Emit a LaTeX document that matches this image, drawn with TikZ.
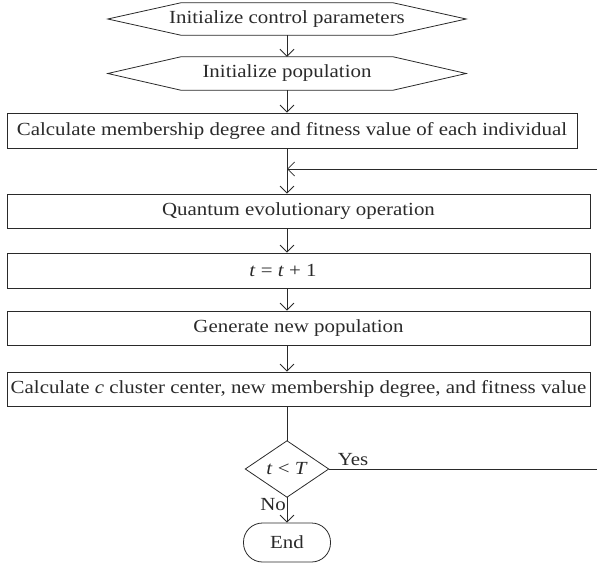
\documentclass[tikz,border=0pt]{standalone}
\usepackage{fontspec}
\setmainfont{Liberation Serif}[FakeStretch=1.13]
\usetikzlibrary{arrows.meta}
\definecolor{ink}{HTML}{2A2A2A}
\tikzset{
  every node/.style={font=\fontsize{18.5}{22}\selectfont, text=ink},
  ln/.style={draw=ink, line width=0.8pt},
  arr/.style={ln, -{Straight Barb[length=7pt,width=14pt,line width=0.8pt]}},
  hexbox/.style={minimum width=358pt, minimum height=32pt, inner sep=0pt},
  procbox/.style={ln, rectangle, minimum width=583pt, inner sep=0pt},
  decbox/.style={minimum width=83pt, minimum height=56pt, inner sep=0pt},
  termbox/.style={ln, rectangle, rounded corners=19pt, minimum width=87pt, minimum height=39pt, inner sep=0pt},
  lbl/.style={inner sep=0pt}
}
\begin{document}
\begin{tikzpicture}[x=1pt,y=-1pt]
\useasboundingbox (0,0) rectangle (597,564);
% hexagons
\node[hexbox] (h1) at (287,19) {Initialize control parameters};
\draw[ln] (h1.west) -- ([xshift=73pt]h1.north west) -- ([xshift=-73pt]h1.north east) -- (h1.east) -- ([xshift=-73pt]h1.south east) -- ([xshift=73pt]h1.south west) -- cycle;
\node[hexbox,minimum height=33pt] (h2) at (287,73.5) {Initialize population};
\draw[ln] (h2.west) -- ([xshift=73pt]h2.north west) -- ([xshift=-73pt]h2.north east) -- (h2.east) -- ([xshift=-73pt]h2.south east) -- ([xshift=73pt]h2.south west) -- cycle;
% process boxes
\node[procbox, minimum width=570pt, minimum height=35pt] (b3) at (292,130.5) {Calculate membership degree and fitness value of each individual};
\node[procbox, minimum height=34pt] (b4) at (298.5,211) {Quantum evolutionary operation};
\node[procbox, minimum height=35pt] (b5) at (298.5,270.5) {};
\node (b5t) at (283,270.5) {\textit{t} = \textit{t} + 1};
\node[procbox, minimum height=34pt] (b6) at (298.5,328) {Generate new population};
\node[procbox, minimum height=34pt] (b7) at (298.5,389) {Calculate \textit{c} cluster center, new membership degree, and fitness value};
% decision
\node[decbox] (d) at (287,469) {\textit{t} < \textit{T}};
\draw[ln] (d.north) -- (d.east) -- (d.south) -- (d.west) -- cycle;
% terminal
\node[termbox] (e) at (287,542.5) {End};
% connectors
\draw[arr] (h1.south) -- (h2.north);
\draw[arr] (h2.south) -- (h2.south |- b3.north);
\draw[arr] (h2.south |- b3.south) -- (h2.south |- b4.north);
\draw[arr] (h2.south |- b4.south) -- (h2.south |- b5.north);
\draw[arr] (h2.south |- b5.south) -- (h2.south |- b6.north);
\draw[arr] (h2.south |- b6.south) -- (h2.south |- b7.north);
\draw[ln] (h2.south |- b7.south) -- (d.north);
\draw[arr] (d.south) -- (e.north);
\coordinate (rt) at (598.5,169);
\draw[arr] (d.east) -- (d.east -| rt) -- (rt) -- (h2.south |- rt);
% labels
\node[lbl, anchor=south west] (yes) at ([xshift=9pt,yshift=3pt]d.east) {Yes};
\node[lbl, anchor=north east] (no) at ([xshift=-1pt,yshift=-1pt]d.south) {No};
\end{tikzpicture}
\end{document}
